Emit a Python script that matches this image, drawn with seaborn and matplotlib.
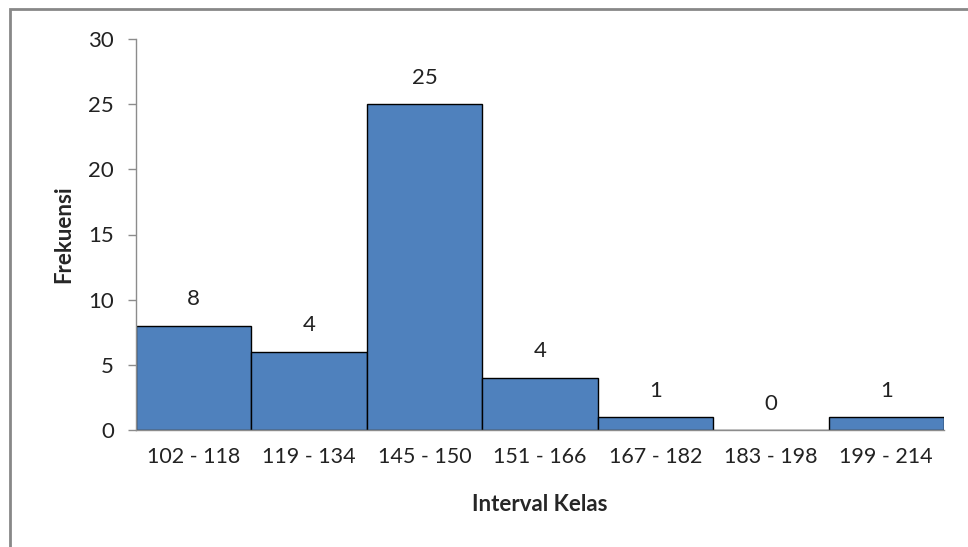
import matplotlib
matplotlib.use("Agg")
import matplotlib.pyplot as plt
import seaborn as sns
import pandas as pd
from matplotlib.patches import Rectangle

# Data
kelas = ["102 - 118", "119 - 134", "145 - 150", "151 - 166",
         "167 - 182", "183 - 198", "199 - 214"]
frekuensi = [8, 6, 25, 4, 1, 0, 1]
# value labels as printed on the chart (second one differs from bar height)
label_text = ["8", "4", "25", "4", "1", "0", "1"]

df = pd.DataFrame({"Interval Kelas": kelas, "Frekuensi": frekuensi})

sns.set_style("white")
plt.rcParams["font.family"] = ["Lato", "DejaVu Sans"]

fig = plt.figure(figsize=(9.68, 5.47), dpi=100)
ax = fig.add_axes([136 / 968, 117 / 547, 808 / 968, 391 / 547])

sns.barplot(data=df, x="Interval Kelas", y="Frekuensi", ax=ax,
            color="#4F81BD", saturation=1, width=1.0,
            edgecolor="black", linewidth=1.0)

for patch, txt in zip(ax.patches, label_text):
    ax.annotate(txt, (patch.get_x() + patch.get_width() / 2, patch.get_height()),
                xytext=(0, 19), textcoords="offset points",
                ha="center", va="center", fontsize=16, color="#222222")

ax.set_ylim(0, 30)
ax.set_xlim(-0.5, len(kelas) - 0.5)
ax.set_yticks(range(0, 31, 5))

for side in ["top", "right"]:
    ax.spines[side].set_visible(False)
for side in ["left", "bottom"]:
    ax.spines[side].set_color("#8c8c8c")
    ax.spines[side].set_linewidth(1.0)

ax.tick_params(axis="y", which="major", left=True, direction="out", length=6,
               color="#8c8c8c", width=1, labelsize=16, labelcolor="#222222", pad=10)
ax.tick_params(axis="x", length=0, labelsize=15.5, labelcolor="#222222", pad=12)

ax.set_xlabel("Interval Kelas", fontsize=16, fontweight="bold", labelpad=20)
ax.set_ylabel("Frekuensi", fontsize=16, fontweight="bold", labelpad=10)

# outer chart frame
fig.patches.append(Rectangle((10 / 968, -0.05), 1.1, 1 - 9 / 547 + 0.05,
                             transform=fig.transFigure, fill=False,
                             edgecolor="#888888", linewidth=2))

fig.savefig("out.png", dpi=100)
